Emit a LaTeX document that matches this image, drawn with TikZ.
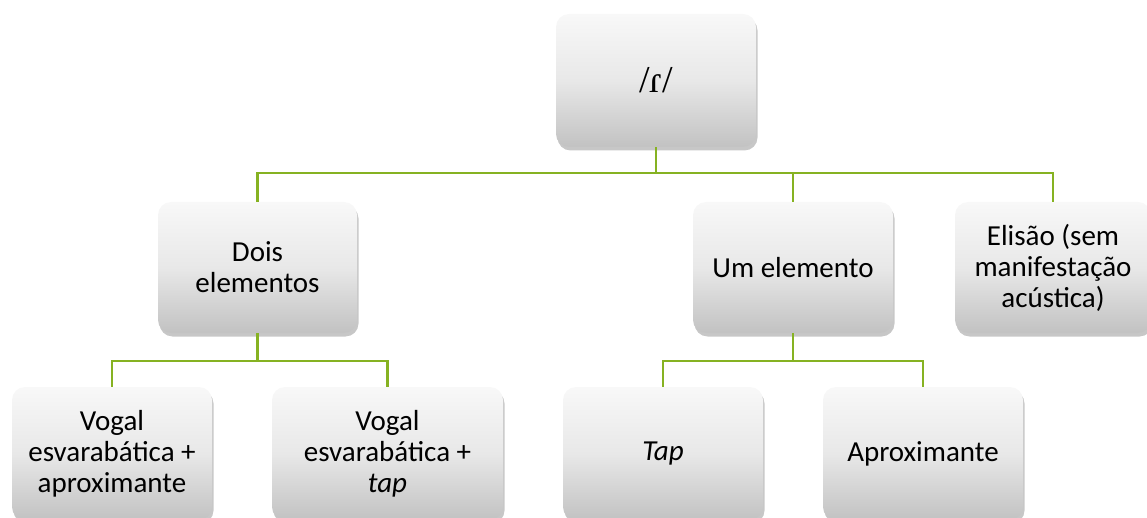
\documentclass[tikz,border=0pt]{standalone}
\usepackage{fontspec}
\setmainfont{Carlito}
\newfontfamily\ipafont{Liberation Serif}
\usetikzlibrary{shadows,calc}
\definecolor{linegreen}{RGB}{134,178,34}
\definecolor{boxtop}{RGB}{248,248,248}
\definecolor{boxmid}{RGB}{232,232,232}
\definecolor{boxbot}{RGB}{194,194,194}
\tikzset{
  box/.style={rectangle, rounded corners=13pt, draw=none,
    top color=boxtop, bottom color=boxbot, middle color=boxmid,
    drop shadow={shadow xshift=1.5pt, shadow yshift=-3.5pt, opacity=0.22, fill=black},
    align=center, inner sep=0pt,
    font=\fontsize{29pt}{31pt}\selectfont},
  ipabox/.style={box, font=\ipafont\fontsize{38pt}{40pt}\selectfont},
  conn/.style={draw=linegreen, line width=2.6pt}
}
\begin{document}
\begin{tikzpicture}[x=1pt,y=-1pt]
\useasboundingbox (0,0) rectangle (1147,518);
\clip (0,0) rectangle (1147,518);
% nodes
\node[ipabox, minimum width=200pt, minimum height=133pt] (root) at (656,80.5) {/\symbol{"027E}/};
\node[box, minimum width=199pt, minimum height=131pt] (dois) at (257.5,267.5) {Dois\\elementos};
\node[box, minimum width=200pt, minimum height=131pt] (um) at (793,267.5) {Um elemento};
\node[box, minimum width=196pt, minimum height=131pt] (elis) at (1053,267.5) {Elisão (sem\\manifestação\\acústica)};
\node[box, minimum width=200pt, minimum height=133pt] (v1) at (112,453.5) {Vogal\\esvarabática +\\aproximante};
\node[box, minimum width=231pt, minimum height=133pt] (v2) at (387.5,453.5) {Vogal\\esvarabática +\\\textit{tap}};
\node[box, minimum width=200pt, minimum height=133pt] (tap) at (663,453.5) {\textit{Tap}};
\node[box, minimum width=200pt, minimum height=133pt] (apr) at (923,453.5) {Aproximante};
% bus coordinates
\coordinate (bus1) at (0,173);
\coordinate (bus2) at (0,361);
% connectors
\draw[conn] (root.south) -- (root.south |- bus1) -| (dois.north);
\draw[conn] (root.south) -- (root.south |- bus1) -| (um.north);
\draw[conn] (root.south) -- (root.south |- bus1) -| (elis.north);
\draw[conn] (dois.south) -- (dois.south |- bus2) -| (v1.north);
\draw[conn] (dois.south) -- (dois.south |- bus2) -| (v2.north);
\draw[conn] (um.south) -- (um.south |- bus2) -| (tap.north);
\draw[conn] (um.south) -- (um.south |- bus2) -| (apr.north);
\end{tikzpicture}
\end{document}
